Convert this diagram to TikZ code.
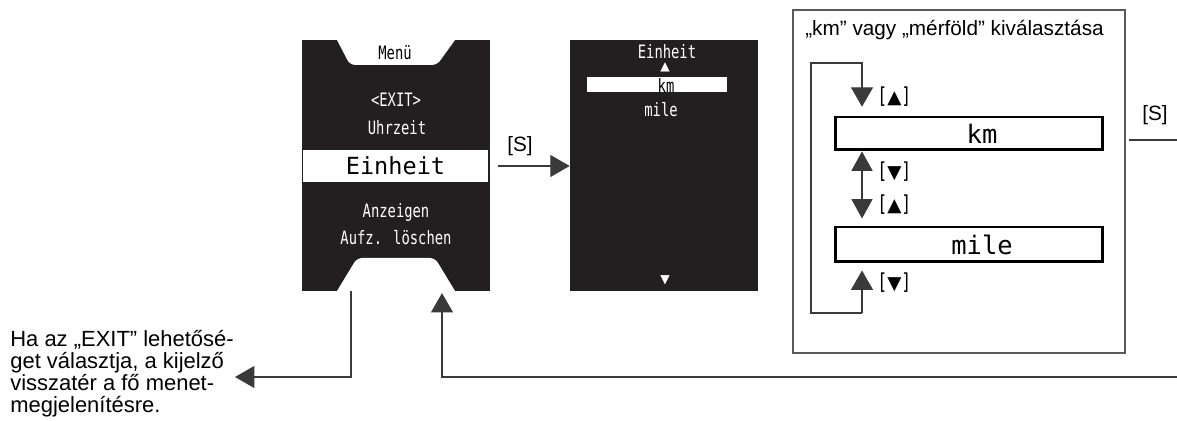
\documentclass[tikz,border=0pt]{standalone}
\usepackage{fontspec}
\setmainfont{Liberation Sans}
\newfontfamily\lcd[FakeStretch=0.75]{DejaVu Sans Mono}
\newfontfamily\lcdszeles{DejaVu Sans Mono}
\newfontfamily\jel{DejaVu Sans}
\usetikzlibrary{arrows.meta,positioning}
\definecolor{kijelzo}{HTML}{231F20}
\definecolor{vonalszin}{HTML}{3A3A3A}
\definecolor{keret}{HTML}{5A5A5A}

\begin{document}
\begin{tikzpicture}[x=0.02cm, y=-0.02cm,
  kepernyo/.style={fill=kijelzo, minimum width=3.76cm, minimum height=5.02cm,
                   inner sep=0pt},
  lcdkis/.style={text=white, inner sep=0pt, font=\lcd\fontsize{10.5}{11}\selectfont},
  lcdnagy/.style={inner sep=0pt, font=\lcdszeles\fontsize{13.4}{14}\selectfont},
  lcdjel/.style={text=white, inner sep=0pt, font=\jel\fontsize{7}{7}\selectfont},
  valaszto/.style={draw, line width=1.7pt, minimum width=5.36cm, minimum height=0.66cm,
                   inner sep=0pt, font=\lcdszeles\fontsize{14.5}{15}\selectfont},
  gomb/.style={anchor=west, inner sep=0pt, font=\lcd\fontsize{12.5}{12.5}\selectfont},
  szoveg/.style={inner sep=0pt, font=\fontsize{11.8}{11.6}\selectfont},
  nyil/.style={-{Triangle[length=11pt,width=12.5pt]}, vonalszin, line width=0.6pt},
  nyilketto/.style={{Triangle[length=11pt,width=12pt]}-{Triangle[length=11pt,width=12pt]},
                    vonalszin, line width=0.6pt}
]
\useasboundingbox (0,0) rectangle (1177,421);

% menu kijelzo
\node[kepernyo] (menu) at (396,165.5) {};
\fill[white] (337,40) -- (455,40) [rounded corners=3pt]-- (437,65) -- (350,65) [sharp corners]-- cycle;
\node[lcdkis, text=black] (menucim) at (395,53) {Menü};
\node[lcdkis] (exit) at (396,100) {<EXIT>};
\node[lcdkis] (ido) at (397,128) {Uhrzeit};
\node[lcdnagy, fill=white, minimum width=3.7cm, minimum height=0.64cm] (egyseg) at (395.5,166) {Einheit};
\node[lcdkis] (kijelzes) at (396,212) {Anzeigen};
\node[lcdkis] (torles) at (396,238) {Aufz. löschen};
\fill[white] (337,291) -- (455,291) [rounded corners=3pt]-- (435,258) -- (357,258) [sharp corners]-- cycle;

% egyseg kijelzo
\node[kepernyo] (egysegmenu) at (664,165.5) {};
\node[lcdkis] (egysegcim) at (667,52) {Einheit};
\node[lcdjel] (fel) at (665,67) {▲};
\fill[white] (587,77) rectangle (727,92);
\node[lcdkis, text=black] (kmsor) at (666,85) {km};
\node[lcdkis] (milesor) at (661,110) {mile};
\node[lcdjel] (le) at (665,280) {▼};

\draw[nyil, shorten <=5.7pt] (egyseg.east) -- (egyseg.east -| egysegmenu.west);
\node[szoveg] (s1) at (520,146) {[S]};

% valasztas
\node[draw=keret, line width=0.8pt, minimum width=6.64cm, minimum height=6.86cm,
      inner sep=0pt] (valasztas) at (959,181.5) {};
\node[szoveg, anchor=base] (cim) at (954.5,36) {„km” vagy „mérföld” kiválasztása};
\node[valaszto] (kmdoboz) at (969,133.5) {\hspace*{0.52cm}km};
\node[valaszto, minimum height=0.7cm] (miledoboz) at (969,244.5) {\hspace*{0.52cm}mile};

\coordinate (hurok) at (862,313);
\coordinate (hurokfent) at (862,63);
\draw[nyil, shorten >=4pt] (hurok) -- (hurok |- miledoboz.south);
\draw[nyil, shorten >=5pt] (hurok) -- ++(-51,0) |- (hurokfent) -- (hurokfent |- kmdoboz.north);
\draw[nyilketto, shorten >=4pt] (hurokfent |- kmdoboz.south) -- (hurokfent |- miledoboz.north);

\node[gomb] (g1) at (877,97) {[{\jel\fontsize{10.5}{10.5}\selectfont ▲}]};
\node[gomb] (g2) at (877,172) {[{\jel\fontsize{10.5}{10.5}\selectfont ▼}]};
\node[gomb] (g3) at (877,205) {[{\jel\fontsize{10.5}{10.5}\selectfont ▲}]};
\node[gomb] (g4) at (877,283) {[{\jel\fontsize{10.5}{10.5}\selectfont ▼}]};

\node[szoveg] (s2) at (1155,115) {[S]};
\coordinate (skimenet) at (1177,140);
\draw[vonalszin, line width=0.6pt, shorten <=1.7pt] (valasztas.east |- skimenet) -- (skimenet);

% vissza
\coordinate (vissza) at (1177,377);
\draw[nyil, shorten >=1pt] (vissza) -| ([xshift=0.92cm]menu.south);
\coordinate (kilep) at (235,377);
\draw[nyil] ([xshift=-0.9cm]menu.south) |- (kilep);
\node[szoveg, anchor=north west, align=left, font=\fontsize{12.5}{12.6}\selectfont]
  (megjegyzes) at (10,330)
  {Ha az „EXIT” lehetősé-\\get választja, a kijelző\\visszatér a fő menet-\\megjelenítésre.};
\end{tikzpicture}
\end{document}
